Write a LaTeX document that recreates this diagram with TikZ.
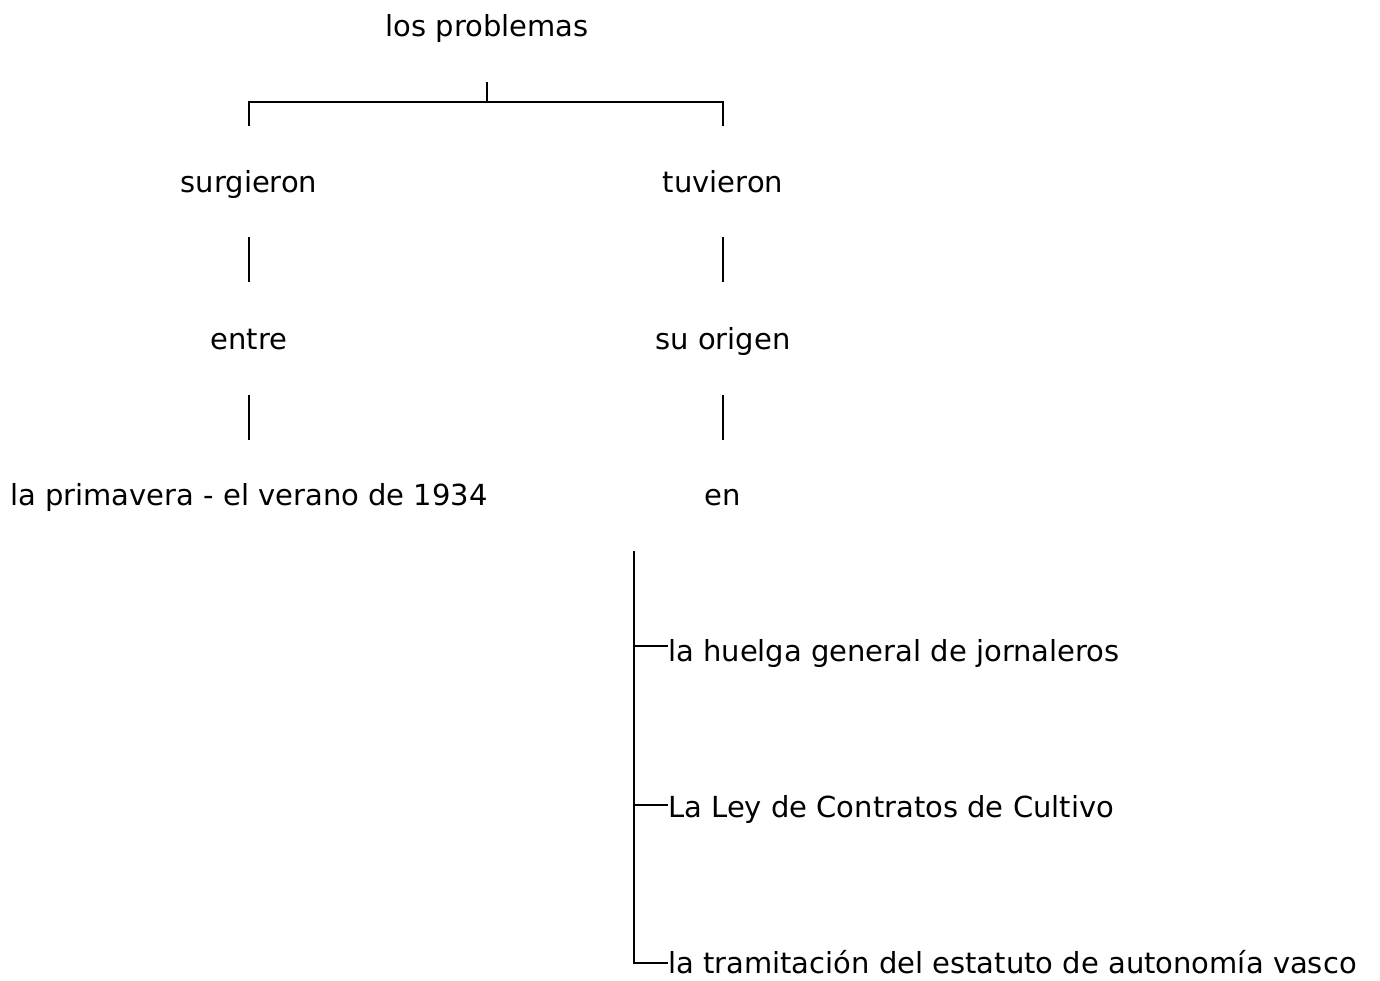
\documentclass[tikz,border=0pt]{standalone}
\usepackage{fontspec}
\setmainfont{DejaVu Sans}
\begin{document}
\begin{tikzpicture}[x=1pt,y=-1pt,
  lbl/.style={inner sep=0pt,font=\fontsize{29}{34}\selectfont,text height=21pt,text depth=7pt},
  ln/.style={line width=2.4pt}]
\useasboundingbox (0,0) rectangle (1380,981);
\node[lbl] (top) at (487,30) {los problemas};
\node[lbl] (surg) at (249,186) {surgieron};
\node[lbl] (tuv) at (723,186) {tuvieron};
\node[lbl] (entre) at (249,342) {entre};
\node[lbl] (orig) at (723,342) {su origen};
\node[lbl] (prim) at (249,498) {la primavera - el verano de 1934};
\node[lbl] (en) at (723,498) {en};
\node[lbl,anchor=west] (h) at (668,654) {la huelga general de jornaleros};
\node[lbl,anchor=west] (ley) at (668,810) {La Ley de Contratos de Cultivo};
\node[lbl,anchor=west] (tram) at (668,966) {la tramitación del estatuto de autonomía vasco};
\coordinate (b0) at (487,82);
\coordinate (b1) at (487,102);
\coordinate (bl) at (249,102);
\coordinate (br) at (723,102);
\coordinate (bl2) at (249,126);
\coordinate (br2) at (723,126);
\draw[ln] (b0) -- (b1);
\draw[ln] (bl2) -- (bl) -- (br) -- (br2);
\draw[ln] (249,237) -- (249,282);
\draw[ln] (723,237) -- (723,282);
\draw[ln] (249,395) -- (249,440);
\draw[ln] (723,395) -- (723,440);
\coordinate (v0) at (634,551);
\coordinate (v1) at (634,646);
\coordinate (v2) at (634,805);
\coordinate (v3) at (634,963);
\draw[ln] (v0) -- (v3) -- (v3 -| tram.west);
\draw[ln] (v1) -- (v1 -| h.west);
\draw[ln] (v2) -- (v2 -| ley.west);
\end{tikzpicture}
\end{document}
